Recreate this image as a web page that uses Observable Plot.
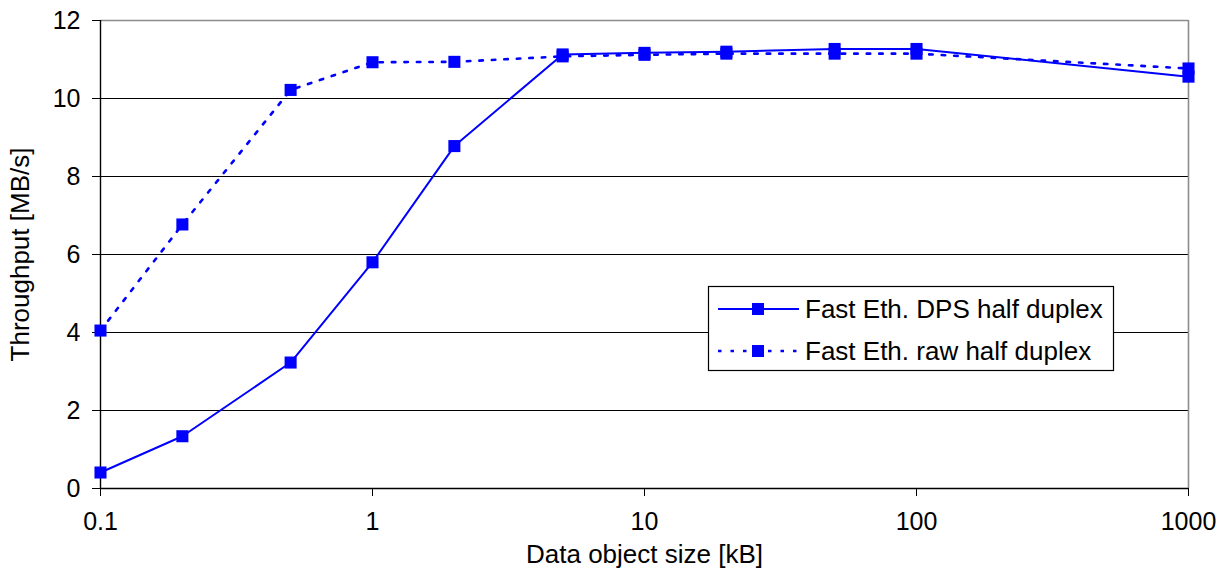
<!DOCTYPE html>
<html>
<head>
<meta charset="utf-8">
<script src="https://cdn.jsdelivr.net/npm/d3@7"></script>
<script src="https://cdn.jsdelivr.net/npm/@observablehq/plot@0.6"></script>
<style>
  html, body { margin: 0; padding: 0; background: #fff; }
  #chart { position: relative; width: 1226px; height: 572px; }
</style>
</head>
<body>
<div id="chart"></div>
<script>
// Throughput measured for each data object size (kB), two transfer modes
const sizes = [0.1, 0.2, 0.5, 1, 2, 5, 10, 20, 50, 100, 1000];
const dpsThroughput = [0.41, 1.34, 3.23, 5.80, 8.78, 11.13, 11.17, 11.20, 11.27, 11.27, 10.56];
const rawThroughput = [4.05, 6.77, 10.22, 10.93, 10.94, 11.08, 11.12, 11.15, 11.15, 11.15, 10.77];
const seriesNames = ["Fast Eth. DPS half duplex", "Fast Eth. raw half duplex"];
const xTicks = [0.1, 1, 10, 100, 1000];
const yTicks = [0, 2, 4, 6, 8, 10, 12];
const gridValues = [2, 4, 6, 8, 10];

const blue = "#0000ff";
const font = "'Liberation Sans', Arial, Helvetica, sans-serif";
const dotted = "3.5,9";

const dpsRows = sizes.map((s, i) => ({size: s, value: dpsThroughput[i], series: seriesNames[0]}));
const rawRows = sizes.map((s, i) => ({size: s, value: rawThroughput[i], series: seriesNames[1]}));

const plot = Plot.plot({
  width: 1226,
  height: 572,
  marginLeft: 100,
  marginRight: 38,
  marginTop: 20,
  marginBottom: 84,
  style: {fontFamily: font, fontSize: "25px", color: "#000", background: "#fff", overflow: "visible"},
  x: {type: "log", domain: [0.1, 1000]},
  y: {domain: [0, 12]},
  marks: [
    // horizontal gridlines and plot-area border
    Plot.ruleY(gridValues, {stroke: "#000", strokeWidth: 1.2}),
    Plot.ruleY([12], {stroke: "#8c8c8c", strokeWidth: 1.6}),
    Plot.ruleX([1000], {stroke: "#8c8c8c", strokeWidth: 1.6}),
    Plot.ruleY([0], {stroke: "#000", strokeWidth: 1.4}),
    Plot.ruleX([0.1], {stroke: "#000", strokeWidth: 1.4}),
    Plot.axisX({
      ticks: xTicks,
      tickFormat: d => String(d),
      tickSize: 8,
      tickPadding: 16,
      fontSize: 25,
      label: null
    }),
    Plot.axisX({
      ticks: [],
      tickSize: 0,
      fontSize: 26,
      label: "Data object size [kB]",
      labelAnchor: "center",
      labelArrow: "none",
      labelOffset: 74
    }),
    Plot.axisY({
      ticks: yTicks,
      tickSize: 8,
      tickPadding: 12,
      fontSize: 25,
      label: null
    }),
    Plot.axisY({
      ticks: [],
      tickSize: 0,
      fontSize: 26,
      label: "Throughput [MB/s]",
      labelAnchor: "center",
      labelArrow: "none",
      labelOffset: 90
    }),
    // series lines
    Plot.line(dpsRows, {x: "size", y: "value", stroke: blue, strokeWidth: 2}),
    Plot.line(rawRows, {x: "size", y: "value", stroke: blue, strokeWidth: 2.6, strokeDasharray: dotted}),
    // square markers
    Plot.dot(dpsRows, {x: "size", y: "value", symbol: "square", r: 6.8, fill: blue, stroke: "none"}),
    Plot.dot(rawRows, {x: "size", y: "value", symbol: "square", r: 6.8, fill: blue, stroke: "none"})
  ]
});

document.getElementById("chart").appendChild(plot);

// Legend box inside the plot area
const svg = d3.select(plot);
const lg = svg.append("g").attr("transform", "translate(708,286)");
lg.append("rect")
  .attr("x", 0.5).attr("y", 0.5)
  .attr("width", 405).attr("height", 84)
  .attr("fill", "#fff").attr("stroke", "#000").attr("stroke-width", 1.2);
const entries = [
  {name: seriesNames[0], dash: null, width: 2},
  {name: seriesNames[1], dash: dotted, width: 2.6}
];
entries.forEach((e, i) => {
  const cy = 23 + i * 42;
  lg.append("line")
    .attr("x1", 10).attr("x2", 91).attr("y1", cy).attr("y2", cy)
    .attr("stroke", blue).attr("stroke-width", e.width)
    .attr("stroke-dasharray", e.dash);
  lg.append("rect")
    .attr("x", 50 - 6).attr("y", cy - 6).attr("width", 12).attr("height", 12)
    .attr("fill", blue);
  lg.append("text")
    .attr("x", 97).attr("y", cy)
    .attr("dy", "0.35em")
    .attr("text-anchor", "start")
    .attr("font-family", font).attr("font-size", 26)
    .attr("fill", "#000")
    .text(e.name);
});
</script>
</body>
</html>
